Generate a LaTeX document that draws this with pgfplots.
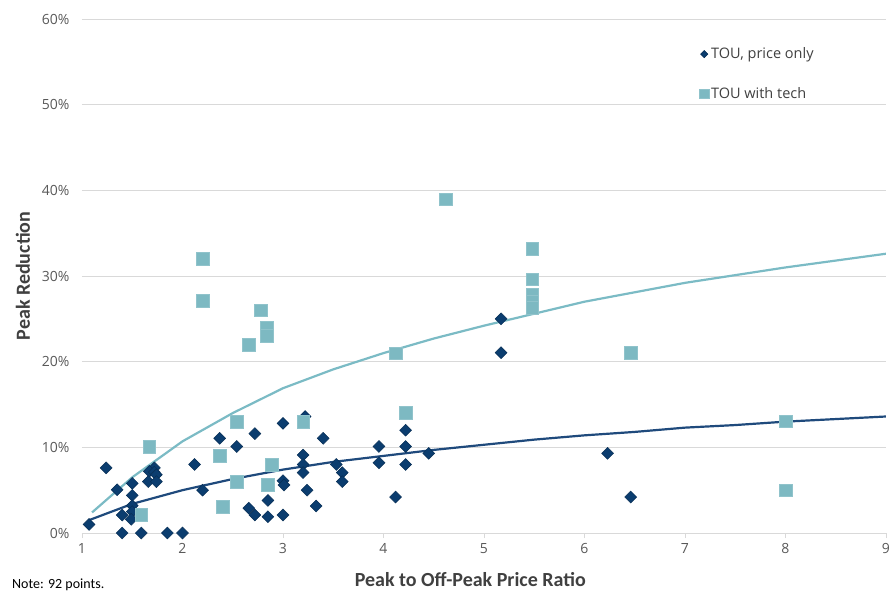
\documentclass[border=0pt]{standalone}
\usepackage{fontspec}
\setmainfont{Open Sans}
\newfontfamily\calibri{Carlito}
\usepackage{pgfplots}
\pgfplotsset{compat=1.18}

\definecolor{tounavy}{HTML}{0B3D6F}
\definecolor{touedge}{HTML}{072E55}
\definecolor{toutech}{HTML}{7DB9C2}
\definecolor{navyline}{HTML}{1F4A7C}
\definecolor{techline}{HTML}{7BBBC5}
\definecolor{gridgray}{HTML}{D9D9D9}
\definecolor{labgray}{HTML}{595959}
\definecolor{titlegray}{HTML}{404040}

\begin{document}
\begin{tikzpicture}
\path[use as bounding box] (-82pt,-59pt) rectangle (810pt,533pt);
\begin{axis}[
    scale only axis,
    width=804pt, height=514pt,
    xmin=1, xmax=9, ymin=0, ymax=60,
    xtick={1,...,9}, ytick={0,10,...,60},
    yticklabel={\pgfmathprintnumber{\tick}\%},
    /pgf/number format/assume math mode=true,
    ymajorgrids,
    grid style={gridgray, line width=0.8pt},
    axis x line*=bottom, axis y line*=left,
    x axis line style={gridgray, line width=0.8pt, -},
    y axis line style={draw=none},
    xtick style={gridgray, line width=0.8pt},
    ytick style={draw=none},
    tick align=outside, major tick length=5pt,
    ticklabel style={font=\fontsize{14}{16}\selectfont, text=labgray},
    xticklabel style={yshift=-2pt},
    yticklabel style={xshift=-4pt},
    xlabel={\calibri\bfseries Peak to Off-Peak Price Ratio},
    ylabel={\calibri\bfseries Peak Reduction},
    xlabel style={at={(axis description cs:0.483,-0.0914)}, anchor=center,
        font=\fontsize{20}{22}\selectfont, text=titlegray},
    ylabel style={at={(axis description cs:-0.0734,0.5)}, anchor=center,
        font=\fontsize{20}{22}\selectfont, text=titlegray},
    legend style={at={(rel axis cs:0.764,0.952)}, anchor=north west,
        draw=none, fill=none, font=\fontsize{14.5}{17}\selectfont,
        text=titlegray, row sep=23pt},
    legend cell align=left,
]

% trend lines
\addplot[navyline, line width=2.2pt, forget plot] coordinates {
 (1.07,1.5) (1.5,3.4) (2,5.0) (2.5,6.3) (3,7.4) (3.5,8.3) (4,9.0)
 (4.5,9.7) (5,10.3) (5.5,10.9) (6,11.4) (6.5,11.8) (7,12.3)
 (7.5,12.6) (8,13.0) (8.5,13.3) (9,13.6)};
\addplot[techline, line width=2.2pt, forget plot] coordinates {
 (1.1,2.4) (1.5,6.5) (2,10.7) (2.5,14.0) (3,16.9) (3.5,19.1) (4,21.0)
 (4.5,22.7) (5,24.2) (5.5,25.6) (6,27.0) (6.5,28.1) (7,29.2)
 (7.5,30.1) (8,31.0) (8.5,31.8) (9,32.6)};

% TOU, price only
\addplot[only marks, mark=square*, mark size=4.2pt,
    mark options={rotate=45, fill=tounavy, draw=touedge, line width=0.5pt},
    legend image post style={mark size=2.6pt}]
coordinates {
 (1.07,1.0) (1.24,7.6) (1.35,5.05) (1.40,2.1) (1.40,0) (1.50,5.8)
 (1.50,4.4) (1.50,3.2) (1.50,2.5) (1.49,1.6) (1.59,0) (1.85,0) (2.0,0)
 (1.72,7.6) (1.67,7.2) (1.72,7.1) (1.74,6.8) (1.66,6.0) (1.74,6.0)
 (2.12,8.0) (2.20,5.0) (2.37,11.05) (2.54,10.1) (2.72,11.6) (2.66,2.9)
 (2.72,2.1) (2.85,3.8) (2.85,1.9) (3.0,2.1) (3.0,12.8) (3.0,6.1)
 (3.01,5.6) (3.20,9.1) (3.20,8.0) (3.20,7.05) (3.24,5.0) (3.22,13.6)
 (3.33,3.15) (3.40,11.05) (3.53,8.0) (3.59,7.05) (3.59,6.0) (3.955,10.1)
 (3.955,8.2) (4.12,4.2) (4.22,12.0) (4.22,10.1) (4.22,8.0) (4.45,9.3)
 (5.17,25.0) (5.17,21.05) (6.23,9.3) (6.46,4.2)};
\addlegendentry{TOU, price only}

% TOU with tech
\addplot[only marks, mark=square*, mark size=6.3pt,
    mark options={fill=toutech, draw=toutech!85!white, line width=0.5pt},
    legend image post style={mark size=4.8pt}]
coordinates {
 (1.67,10.05) (1.59,2.1) (2.20,32.0) (2.20,27.1) (2.78,26.0) (2.84,24.0)
 (2.84,23.0) (2.66,22.0) (4.12,21.0) (2.54,13.0) (3.20,13.0) (2.37,9.0)
 (2.54,6.0) (2.89,8.0) (2.85,5.6) (2.40,3.05) (4.22,14.05) (4.62,38.95)
 (5.48,33.2) (5.48,29.6) (5.48,27.8) (5.48,27.0) (5.48,26.3) (6.46,21.05)
 (8.0,13.05) (8.0,5.0)};
\addlegendentry{TOU with tech}

\end{axis}
\node[anchor=base west, font=\calibri\fontsize{14}{16}\selectfont, text=black,
    inner sep=0pt] at (-70pt,-55pt) {Note: 92 points.};
\end{tikzpicture}
\end{document}
